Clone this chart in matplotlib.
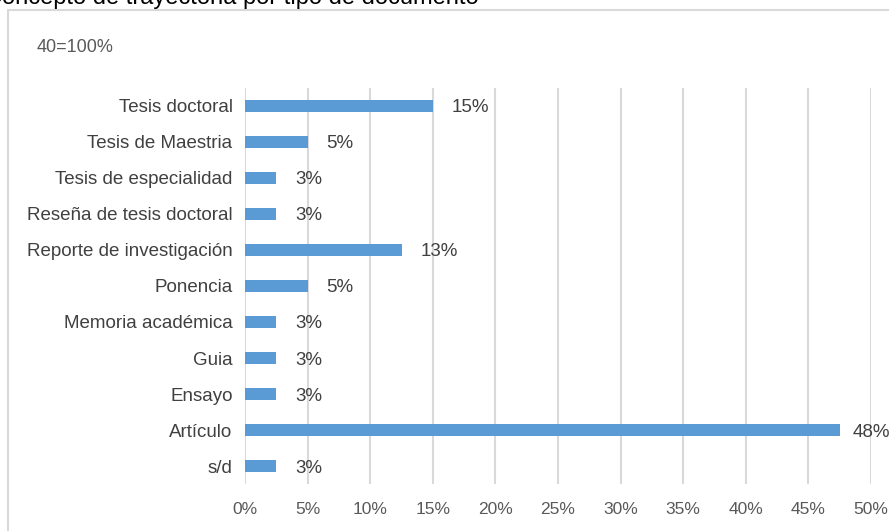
import math
import matplotlib
matplotlib.use("Agg")
import matplotlib.pyplot as plt
from matplotlib.patches import Rectangle
from matplotlib.ticker import FuncFormatter

plt.rcParams['font.family'] = ['Liberation Sans', 'DejaVu Sans']

# documentos por tipo (total 40)
tipos = ["Tesis doctoral", "Tesis de Maestria", "Tesis de especialidad",
         "Reseña de tesis doctoral", "Reporte de investigación", "Ponencia",
         "Memoria académica", "Guia", "Ensayo", "Artículo", "s/d"]
conteos = [6, 2, 1, 1, 5, 2, 1, 1, 1, 19, 1]
total = 40

porcentajes = [c / total * 100 for c in conteos]
etiquetas = [f"{math.floor(p + 0.5)}%" for p in porcentajes]
xticks = list(range(0, 51, 5))

fig = plt.figure(figsize=(8.89, 5.31), dpi=100)
ax = fig.add_axes([0.2756, 0.0885, 0.7042, 0.7458])

y = list(range(len(tipos)))
ax.barh(y, porcentajes, height=0.36, color="#5b9bd5", zorder=3)
ax.set_ylim(len(tipos) - 0.5, -0.5)
ax.set_xlim(0, 50)
ax.set_yticks(y)
ax.set_yticklabels(tipos, fontsize=13.5, color="#404040")
ax.set_xticks(xticks)
ax.xaxis.set_major_formatter(FuncFormatter(lambda v, pos: f"{v:.0f}%"))
ax.tick_params(axis='x', length=0, pad=13, labelcolor="#595959")
for t in ax.get_xticklabels():
    t.set_fontfamily(['Liberation Sans Narrow', 'Liberation Sans'])
    t.set_fontsize(12.5)
ax.tick_params(axis='y', length=0, pad=9)
ax.grid(axis='x', color="#d9d9d9", linewidth=1.5, zorder=0)
for s in ax.spines.values():
    s.set_visible(False)

# etiquetas de valor; la última se ajusta para no salir del marco
for yi, p, lab in zip(y, porcentajes, etiquetas):
    ax.text(min(p + 1.5, 48.5), yi, lab, va='center_baseline', ha='left',
            fontsize=13.5, color="#404040", clip_on=False)

fig.text(37 / 889, 1 - 47 / 531, "40=100%", fontsize=13, color="#595959", va='center')
fig.text(-15 / 889, 1 - 4 / 531, "Concepto de trayectoria por tipo de documento",
         fontsize=17, color="black", va='baseline')

# marco del área del gráfico
fig.patches.append(Rectangle((8 / 889, -0.1), 1.2, 1 - 10 / 531 + 0.1, transform=fig.transFigure,
                             fill=False, edgecolor="#d9d9d9", linewidth=1.5))

fig.savefig("out.png", dpi=100)
